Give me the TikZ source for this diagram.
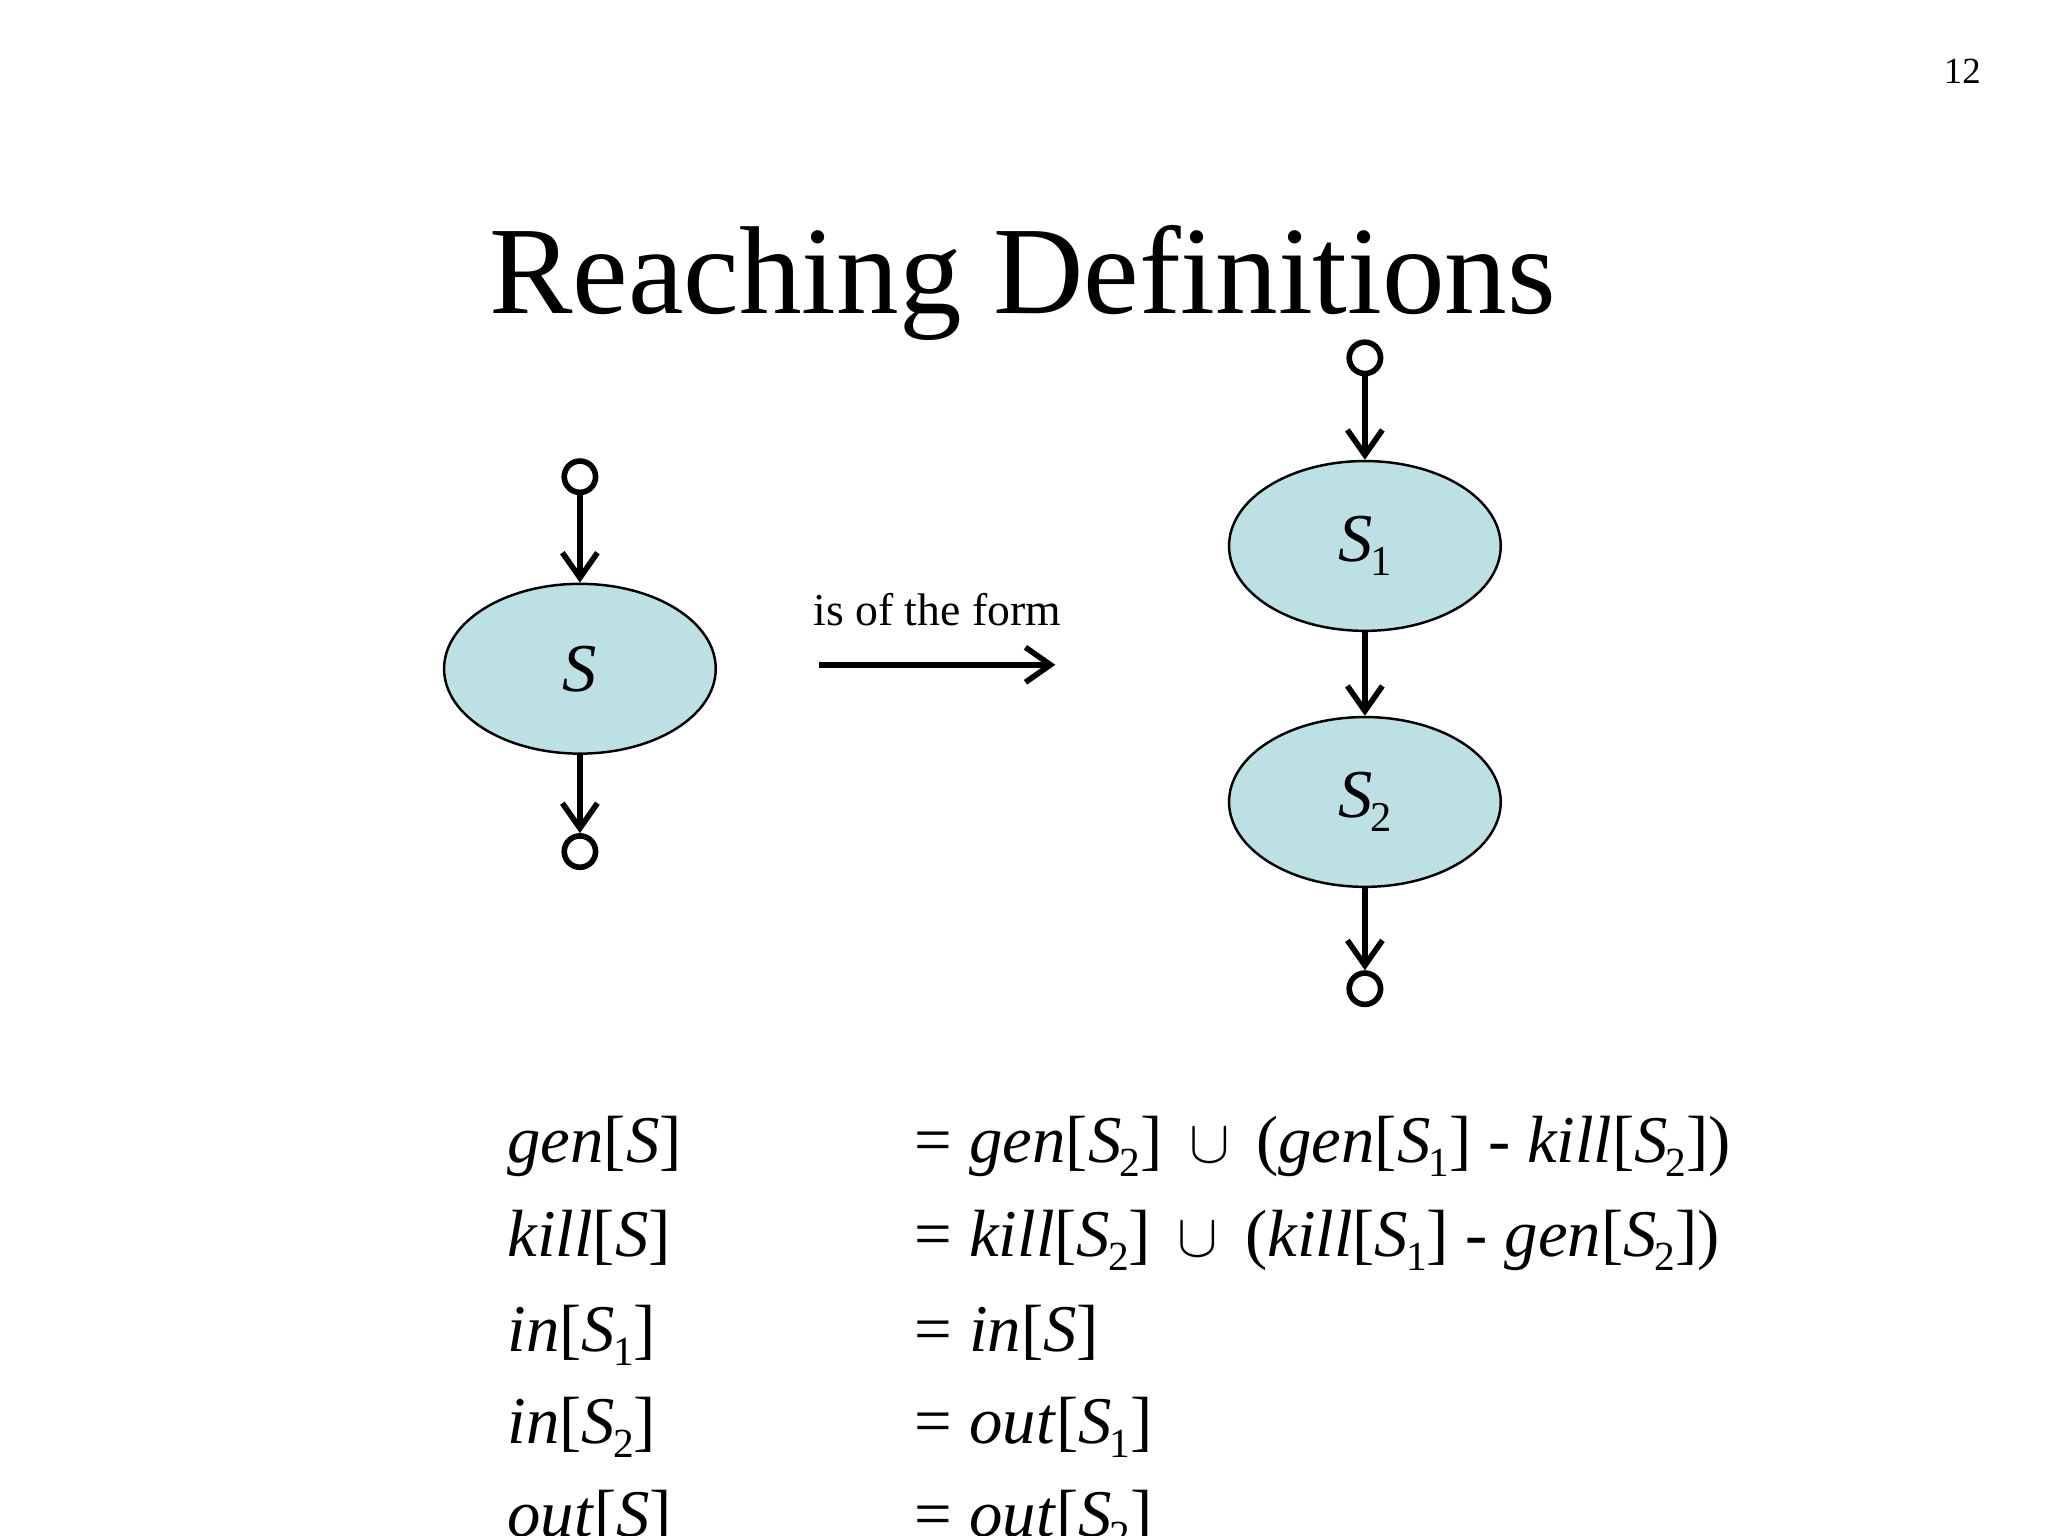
\documentclass[tikz,border=0pt]{standalone}
\usepackage{fontspec}
\setmainfont{Liberation Serif}
\usetikzlibrary{arrows.meta,shapes.geometric}
\newcommand\sbs[1]{\kern-0.03em\raisebox{-0.45ex}{\scalebox{0.62}{#1}}}
\newcommand\iS{\textit{S}}
\newcommand\ucup{\hspace{0.4em}$\cup$\hspace{0.4em}}
\definecolor{fillb}{HTML}{BCE0E3}
\tikzset{
  blob/.style={ellipse,draw=black,line width=0.7pt,fill=fillb,minimum width=208*0.013061cm,minimum height=130*0.013061cm,inner sep=0pt,font=\fontsize{19.5}{20}\selectfont},
  port/.style={circle,draw=black,line width=1.6pt,minimum size=24*0.013061cm,inner sep=0pt},
  flow/.style={line width=1.6pt,-{Straight Barb[length=2.5mm,width=3.5mm]}},
  eq/.style={anchor=base west,inner sep=0pt,font=\fontsize{19}{20}\selectfont}
}
\begin{document}
\begin{tikzpicture}[x=0.013061cm,y=-0.013061cm]
\useasboundingbox (0,0) rectangle (1568,1176);
\clip (0,0) rectangle (1568,1176);
\node[anchor=base east,font=\fontsize{10.5}{12}\selectfont] (pg) at (1526,64) {12};
\node[anchor=base,font=\fontsize{35.6}{40}\selectfont] (title) at (783,240) {Reaching Definitions};
% left
\node[port] (a0) at (444,365) {};
\node[blob] (s) at (444,512) {\iS};
\node[port] (a1) at (444,652) {};
\draw[flow] (a0) -- (s);
\draw[flow] (s) -- (a1);
% arrow
\coordinate (f0) at (627,509);
\coordinate (f1) at (808,509);
\draw[line width=1.6pt,-{Straight Barb[length=2.5mm,width=3.5mm]}] (f0) -- (f1) node[midway,above=7pt,font=\fontsize{13}{14}\selectfont] (lab) {is of the form};
% right
\node[port] (b0) at (1045,274) {};
\node[blob] (s1) at (1045,418) {\iS\sbs{1}};
\node[blob] (s2) at (1045,614) {\iS\sbs{2}};
\node[port] (b1) at (1045,757) {};
\draw[flow] (b0) -- (s1);
\draw[flow] (s1) -- (s2);
\draw[flow] (s2) -- (b1);
% equations
\node[eq] (l1) at (388,890) {\textit{gen}[\iS]};
\node[eq] (r1) at (700,890) {= \textit{gen}[\iS\sbs{2}]\ucup(\textit{gen}[\iS\sbs{1}] - \textit{kill}[\iS\sbs{2}])};
\node[eq] (l2) at (388,962) {\textit{kill}[\iS]};
\node[eq] (r2) at (700,962) {= \textit{kill}[\iS\sbs{2}]\ucup(\textit{kill}[\iS\sbs{1}] - \textit{gen}[\iS\sbs{2}])};
\node[eq] (l3) at (388,1035) {\textit{in}[\iS\sbs{1}]};
\node[eq] (r3) at (700,1035) {= \textit{in}[\iS]};
\node[eq] (l4) at (388,1105) {\textit{in}[\iS\sbs{2}]};
\node[eq] (r4) at (700,1105) {= \textit{out}[\iS\sbs{1}]};
\node[eq] (l5) at (388,1176) {\textit{out}[\iS]};
\node[eq] (r5) at (700,1176) {= \textit{out}[\iS\sbs{2}]};
\end{tikzpicture}
\end{document}
